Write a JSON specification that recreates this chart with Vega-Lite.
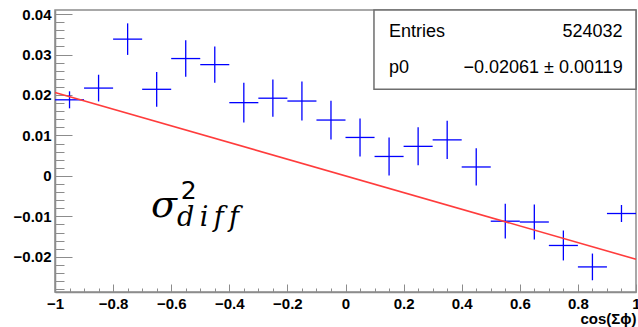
{
  "$schema": "https://vega.github.io/schema/vega-lite/v6.json",
  "width": 581,
  "height": 282,
  "autosize": {"type": "none"},
  "padding": {"left": 55, "top": 10, "right": 2, "bottom": 35},
  "background": "white",
  "config": {
    "view": {"stroke": "#8c8c8c", "strokeWidth": 1.5},
    "font": "Liberation Sans"
  },
  "datasets": {
    "bins": [
      {"x": -0.95, "xlo": -1.0, "xhi": -0.9, "y": 0.0188, "ylo": 0.0167, "yhi": 0.0209},
      {"x": -0.85, "xlo": -0.9, "xhi": -0.8, "y": 0.0217, "ylo": 0.0184, "yhi": 0.0250},
      {"x": -0.75, "xlo": -0.8, "xhi": -0.7, "y": 0.0338, "ylo": 0.0299, "yhi": 0.0377},
      {"x": -0.65, "xlo": -0.7, "xhi": -0.6, "y": 0.0214, "ylo": 0.0171, "yhi": 0.0257},
      {"x": -0.55, "xlo": -0.6, "xhi": -0.5, "y": 0.0290, "ylo": 0.0245, "yhi": 0.0335},
      {"x": -0.45, "xlo": -0.5, "xhi": -0.4, "y": 0.0275, "ylo": 0.0230, "yhi": 0.0320},
      {"x": -0.35, "xlo": -0.4, "xhi": -0.3, "y": 0.0181, "ylo": 0.0132, "yhi": 0.0230},
      {"x": -0.25, "xlo": -0.3, "xhi": -0.2, "y": 0.0192, "ylo": 0.0146, "yhi": 0.0238},
      {"x": -0.15, "xlo": -0.2, "xhi": -0.1, "y": 0.0185, "ylo": 0.0137, "yhi": 0.0233},
      {"x": -0.05, "xlo": -0.1, "xhi": 0.0, "y": 0.0138, "ylo": 0.0090, "yhi": 0.0186},
      {"x": 0.05, "xlo": 0.0, "xhi": 0.1, "y": 0.0095, "ylo": 0.0048, "yhi": 0.0142},
      {"x": 0.15, "xlo": 0.1, "xhi": 0.2, "y": 0.0048, "ylo": 0.0001, "yhi": 0.0095},
      {"x": 0.25, "xlo": 0.2, "xhi": 0.3, "y": 0.0073, "ylo": 0.0026, "yhi": 0.0120},
      {"x": 0.35, "xlo": 0.3, "xhi": 0.4, "y": 0.0089, "ylo": 0.0042, "yhi": 0.0136},
      {"x": 0.45, "xlo": 0.4, "xhi": 0.5, "y": 0.0022, "ylo": -0.0024, "yhi": 0.0068},
      {"x": 0.55, "xlo": 0.5, "xhi": 0.6, "y": -0.0112, "ylo": -0.0155, "yhi": -0.0069},
      {"x": 0.65, "xlo": 0.6, "xhi": 0.7, "y": -0.0114, "ylo": -0.0157, "yhi": -0.0071},
      {"x": 0.75, "xlo": 0.7, "xhi": 0.8, "y": -0.0172, "ylo": -0.0209, "yhi": -0.0135},
      {"x": 0.85, "xlo": 0.8, "xhi": 0.9, "y": -0.0225, "ylo": -0.0258, "yhi": -0.0192},
      {"x": 0.95, "xlo": 0.9, "xhi": 1.0, "y": -0.0093, "ylo": -0.0114, "yhi": -0.0072}
    ],
    "fit": [
      {"x": -1.0, "y": 0.02061},
      {"x": 1.0, "y": -0.02061}
    ],
    "one": [{}]
  },
  "resolve": {"axis": {"x": "independent", "y": "independent"}},
  "layer": [
    {
      "data": {"name": "bins"},
      "mark": {"type": "rule", "color": "#0000ff", "strokeWidth": 1.3},
      "encoding": {
        "x": {
          "field": "xlo",
          "type": "quantitative",
          "scale": {"domain": [-1, 1], "nice": false, "zero": false},
          "axis": {
            "orient": "bottom",
            "values": [-1, -0.8, -0.6, -0.4, -0.2, 0, 0.2, 0.4, 0.6, 0.8, 1],
            "format": "~g",
            "tickSize": -8,
            "tickColor": "#8c8c8c",
            "domainColor": "#8c8c8c",
            "domainWidth": 1.5,
            "labelFont": "Liberation Sans",
            "labelFontWeight": "bold",
            "labelFontSize": 15,
            "labelColor": "black",
            "labelPadding": 12,
            "labelOverlap": false,
            "labelFlush": false,
            "grid": false,
            "title": "cos(Σϕ)",
            "titleFont": "Liberation Sans",
            "titleFontWeight": "bold",
            "titleFontSize": 15,
            "titleColor": "black",
            "titleAnchor": "end",
            "titleAlign": "right",
            "titleX": 581,
            "titleY": 31,
            "titleBaseline": "alphabetic"
          }
        },
        "x2": {"field": "xhi"},
        "y": {
          "field": "y",
          "type": "quantitative",
          "scale": {"domain": [-0.0287, 0.041], "nice": false, "zero": false},
          "axis": {
            "orient": "left",
            "values": [-0.02, -0.01, 0, 0.01, 0.02, 0.03, 0.04],
            "format": "~g",
            "tickSize": -17,
            "tickColor": "#8c8c8c",
            "domainColor": "#8c8c8c",
            "domainWidth": 1.5,
            "labelFont": "Liberation Sans",
            "labelFontWeight": "bold",
            "labelFontSize": 15,
            "labelColor": "black",
            "labelPadding": 21,
            "labelOverlap": false,
            "labelFlush": false,
            "grid": false,
            "title": null
          }
        }
      }
    },
    {
      "data": {"name": "bins"},
      "mark": {"type": "rule", "color": "#0000ff", "strokeWidth": 1.3},
      "encoding": {
        "x": {
          "field": "x",
          "type": "quantitative",
          "axis": {
            "orient": "bottom",
            "values": [-0.95, -0.9, -0.85, -0.75, -0.7, -0.65, -0.55, -0.5, -0.45, -0.35, -0.3, -0.25, -0.15, -0.1, -0.05, 0.05, 0.1, 0.15, 0.25, 0.3, 0.35, 0.45, 0.5, 0.55, 0.65, 0.7, 0.75, 0.85, 0.9, 0.95],
            "tickSize": -4,
            "tickColor": "#8c8c8c",
            "domain": false,
            "labels": false,
            "grid": false,
            "title": null
          }
        },
        "y": {
          "field": "ylo",
          "type": "quantitative",
          "axis": {
            "orient": "left",
            "values": [-0.028, -0.026, -0.024, -0.022, -0.018, -0.016, -0.014, -0.012, -0.008, -0.006, -0.004, -0.002, 0.002, 0.004, 0.006, 0.008, 0.012, 0.014, 0.016, 0.018, 0.022, 0.024, 0.026, 0.028, 0.032, 0.034, 0.036, 0.038],
            "tickSize": -9,
            "tickColor": "#8c8c8c",
            "domain": false,
            "labels": false,
            "grid": false,
            "title": null
          }
        },
        "y2": {"field": "yhi"}
      }
    },
    {
      "data": {"name": "fit"},
      "mark": {"type": "line", "color": "#ff3c3c", "strokeWidth": 1.6},
      "encoding": {
        "x": {"field": "x", "type": "quantitative", "axis": null},
        "y": {"field": "y", "type": "quantitative", "axis": null}
      }
    },
    {
      "data": {"name": "one"},
      "mark": {"type": "rect", "fill": "white", "stroke": "#6e6e6e", "strokeWidth": 1.5},
      "encoding": {
        "x": {"datum": 0.098, "axis": null},
        "x2": {"datum": 1},
        "y": {"datum": 0.0214, "axis": null},
        "y2": {"datum": 0.041}
      }
    },
    {
      "data": {"name": "one"},
      "mark": {"type": "text", "text": "Entries", "align": "left", "baseline": "alphabetic", "font": "Liberation Sans", "fontSize": 18, "color": "black"},
      "encoding": {"x": {"datum": 0.15, "axis": null}, "y": {"datum": 0.0343, "axis": null}}
    },
    {
      "data": {"name": "one"},
      "mark": {"type": "text", "text": "524032", "align": "right", "baseline": "alphabetic", "font": "Liberation Sans", "fontSize": 18, "color": "black"},
      "encoding": {"x": {"datum": 0.954, "axis": null}, "y": {"datum": 0.0343, "axis": null}}
    },
    {
      "data": {"name": "one"},
      "mark": {"type": "text", "text": "p0", "align": "left", "baseline": "alphabetic", "font": "Liberation Sans", "fontSize": 18, "color": "black"},
      "encoding": {"x": {"datum": 0.15, "axis": null}, "y": {"datum": 0.0254, "axis": null}}
    },
    {
      "data": {"name": "one"},
      "mark": {"type": "text", "text": "−0.02061 ± 0.00119", "align": "right", "baseline": "alphabetic", "font": "Liberation Sans", "fontSize": 18, "color": "black"},
      "encoding": {"x": {"datum": 0.954, "axis": null}, "y": {"datum": 0.0254, "axis": null}}
    },
    {
      "data": {"name": "one"},
      "mark": {"type": "text", "text": "σ", "align": "center", "baseline": "alphabetic", "font": "DejaVu Serif", "fontStyle": "italic", "fontSize": 38, "color": "black"},
      "encoding": {"x": {"datum": -0.6248, "axis": null}, "y": {"datum": -0.0102, "axis": null}}
    },
    {
      "data": {"name": "one"},
      "mark": {"type": "text", "text": "2", "align": "center", "baseline": "alphabetic", "font": "DejaVu Sans", "fontSize": 25, "color": "black"},
      "encoding": {"x": {"datum": -0.54, "axis": null}, "y": {"datum": -0.0058, "axis": null}}
    },
    {
      "data": {"name": "one"},
      "mark": {"type": "text", "text": "d\u2009i\u2009f\u2009f", "align": "left", "baseline": "alphabetic", "font": "DejaVu Serif", "fontStyle": "italic", "fontSize": 27, "color": "black"},
      "encoding": {"x": {"datum": -0.58, "axis": null}, "y": {"datum": -0.0124, "axis": null}}
    }
  ]
}
